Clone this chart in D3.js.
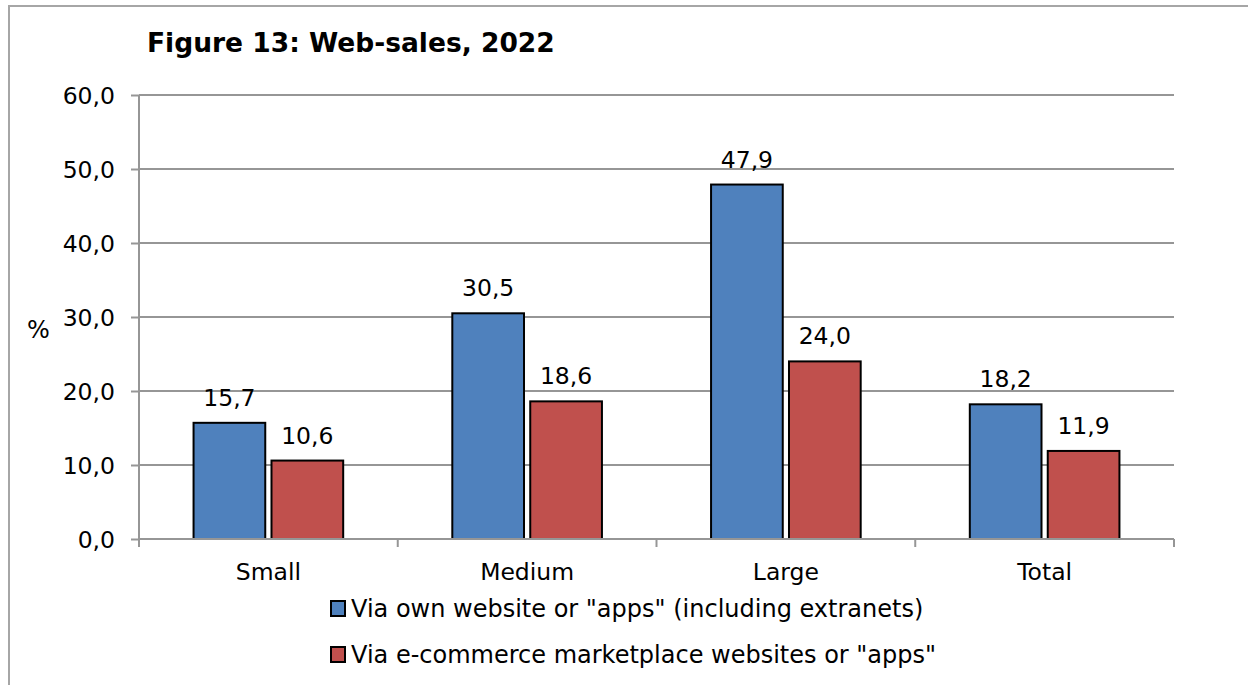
<!DOCTYPE html>
<html><head><meta charset="utf-8">
<script src="https://cdn.jsdelivr.net/npm/d3@7"></script>
<style>body{margin:0;background:#fff}svg{display:block}</style>
</head><body>
<script>
const categories = ["Small", "Medium", "Large", "Total"];
const ownWebsite = [15.7, 30.5, 47.9, 18.2];
const marketplace = [10.6, 18.6, 24.0, 11.9];
const seriesNames = ['Via own website or "apps" (including extranets)', 'Via e-commerce marketplace websites or "apps"'];
const yTicks = [0, 10, 20, 30, 40, 50, 60];
const colors = ["#4F81BD", "#C0504D"];

const W = 1248, H = 685;
const font = "'DejaVu Sans', Verdana, sans-serif";
const svg = d3.select("body").append("svg").attr("width", W).attr("height", H);

// outer frame
svg.append("rect").attr("x", 9).attr("y", 6).attr("width", W + 20).attr("height", H + 20)
  .attr("fill", "none").attr("stroke", "#a6a6a6").attr("stroke-width", 2);

const L = 139, R = 1174, T = 95, B = 539;
const x = d3.scaleBand().domain(categories).range([L, R]).paddingInner(0).paddingOuter(0);
const y = d3.scaleLinear().domain([0, 60]).range([B, T]);
const keys = ["own", "market"];
const data = categories.map((c, i) => ({cat: c, own: ownWebsite[i], market: marketplace[i]}));
const bw = x.bandwidth();
const x1 = d3.scaleBand().domain(keys).range([0, bw]).paddingInner(0.08).paddingOuter(0.7);

// gridlines
svg.append("g").selectAll("line").data(yTicks.filter(t => t > 0)).join("line")
  .attr("x1", L).attr("x2", R).attr("y1", d => y(d)).attr("y2", d => y(d))
  .attr("stroke", "#969696").attr("stroke-width", 2);

// y axis
const yAxis = svg.append("g").attr("transform", `translate(${L},0)`)
  .call(d3.axisLeft(y).tickValues(yTicks).tickSize(8).tickPadding(16)
    .tickFormat(d => d3.format(".1f")(d).replace(".", ",")));
yAxis.select(".domain").remove();
yAxis.selectAll(".tick line").attr("stroke", "#969696").attr("stroke-width", 2);
yAxis.selectAll("text").attr("font-family", font).attr("font-size", 23.5).attr("fill", "#000").attr("dy", "0.36em");
svg.append("line").attr("x1", L).attr("x2", L).attr("y1", T).attr("y2", B + 8)
  .attr("stroke", "#969696").attr("stroke-width", 2);

// bars
const g = svg.append("g").selectAll("g").data(data).join("g")
  .attr("transform", d => `translate(${x(d.cat)},0)`);
g.selectAll("rect").data(d => keys.map((k, i) => ({k, v: d[k], i}))).join("rect")
  .attr("x", d => x1(d.k)).attr("width", x1.bandwidth())
  .attr("y", d => y(d.v)).attr("height", d => B - y(d.v))
  .attr("fill", d => colors[d.i]).attr("stroke", "#000").attr("stroke-width", 2);
g.selectAll("text").data(d => keys.map((k, i) => ({k, v: d[k], i}))).join("text")
  .attr("x", d => x1(d.k) + x1.bandwidth() / 2).attr("y", d => y(d.v) - 17)
  .attr("text-anchor", "middle").attr("font-family", font).attr("font-size", 23.5).attr("fill", "#000")
  .text(d => d3.format(".1f")(d.v).replace(".", ","));

// x axis
const xAxisLine = svg.append("g");
xAxisLine.append("line").attr("x1", L).attr("x2", R).attr("y1", B).attr("y2", B)
  .attr("stroke", "#969696").attr("stroke-width", 2);
const bounds = categories.map(c => x(c)).concat([R]);
xAxisLine.selectAll("line.t").data(bounds).join("line").attr("class", "t")
  .attr("x1", d => d).attr("x2", d => d).attr("y1", B).attr("y2", B + 8)
  .attr("stroke", "#969696").attr("stroke-width", 2);
svg.append("g").selectAll("text").data(categories).join("text")
  .attr("x", d => x(d) + bw / 2).attr("y", 580).attr("text-anchor", "middle")
  .attr("font-family", font).attr("font-size", 23.5).attr("fill", "#000").text(d => d);

// title
svg.append("text").attr("x", 147).attr("y", 52).attr("font-family", font).attr("font-weight", "bold")
  .attr("font-size", 26.5).attr("fill", "#000").text("Figure 13: Web-sales, 2022");

// % label
svg.append("text").attr("x", 27).attr("y", 338).attr("font-family", font).attr("font-size", 24)
  .attr("fill", "#000").text("%");

// legend
const lg = svg.append("g").selectAll("g").data(seriesNames).join("g")
  .attr("transform", (d, i) => `translate(330,${617 + i * 46})`);
lg.append("rect").attr("x", 1).attr("y", -16).attr("width", 14).attr("height", 15)
  .attr("fill", (d, i) => colors[i]).attr("stroke", "#000").attr("stroke-width", 2);
lg.append("text").attr("x", 21).attr("y", 0).attr("font-family", font).attr("font-size", 24)
  .attr("fill", "#000").text(d => d);
</script>
</body></html>
